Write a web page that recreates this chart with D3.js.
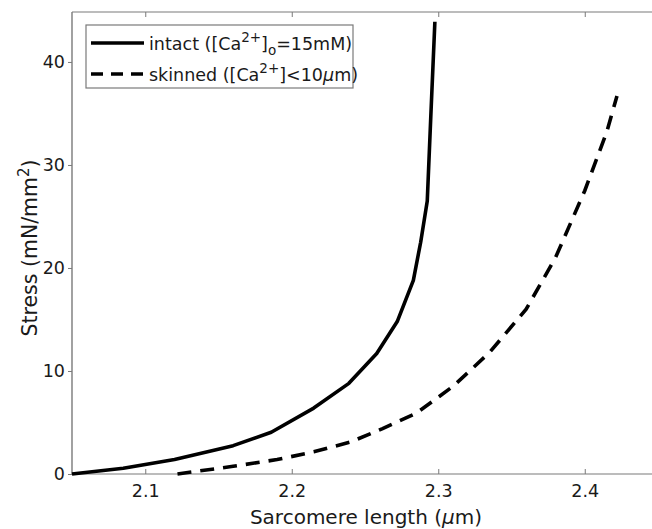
<!DOCTYPE html>
<html><head><meta charset="utf-8">
<script src="https://cdn.jsdelivr.net/npm/d3@7"></script>
<style>body{margin:0;background:#fff}svg{display:block}text{font-family:"DejaVu Sans",sans-serif}</style>
</head><body>
<svg id="c" width="652" height="529"></svg>
<script>
const intactX = [2.05, 2.085, 2.12, 2.16, 2.186, 2.215, 2.239, 2.258, 2.272, 2.283, 2.288, 2.2925, 2.2950, 2.2977];
const intactY = [0, 0.55, 1.4, 2.75, 4.05, 6.4, 8.8, 11.7, 14.8, 18.8, 22.5, 26.5, 35, 43.9];
const skinX = [2.122, 2.16, 2.19, 2.215, 2.24, 2.262, 2.285, 2.31, 2.335, 2.36, 2.38, 2.40, 2.415, 2.422];
const skinY = [0, 0.75, 1.4, 2.15, 3.1, 4.4, 5.9, 8.5, 11.8, 16.0, 21.0, 27.5, 33.2, 36.7];
const xTicks = [2.1, 2.2, 2.3, 2.4];
const yTicks = [0, 10, 20, 30, 40];

const svg = d3.select("#c");
const L = 72, R = 658, T = 12, B = 474;
const x = d3.scaleLinear().domain([2.05, 2.45]).range([L, R]);
const y = d3.scaleLinear().domain([0, 44.85]).range([B, T]);
const axisCol = "#7a7a7a";
const txtCol = "#1a1a1a";

// axes box
svg.append("line").attr("x1", L).attr("x2", 652).attr("y1", T).attr("y2", T).attr("stroke", axisCol).attr("stroke-width", 1.2);
svg.append("line").attr("x1", L).attr("x2", 652).attr("y1", B).attr("y2", B).attr("stroke", axisCol).attr("stroke-width", 1.2);

// bottom axis
const xb = svg.append("g").attr("transform", `translate(0,${B})`)
  .call(d3.axisBottom(x).tickValues(xTicks).tickSize(-5).tickPadding(11).tickFormat(d3.format(".1f")));
xb.select(".domain").remove();
xb.selectAll(".tick line").attr("stroke", axisCol);
xb.selectAll("text").attr("font-size", 17.5).attr("fill", txtCol);

// top ticks
const xt = svg.append("g").attr("transform", `translate(0,${T})`)
  .call(d3.axisTop(x).tickValues(xTicks).tickSize(-5).tickFormat(""));
xt.select(".domain").remove();
xt.selectAll(".tick line").attr("stroke", axisCol);

// left axis
const yl = svg.append("g").attr("transform", `translate(${L},0)`)
  .call(d3.axisLeft(y).tickValues(yTicks).tickSize(4).tickPadding(3));
yl.select(".domain").remove();
yl.selectAll(".tick line").attr("stroke", axisCol);
yl.selectAll("text").attr("font-size", 17.5).attr("fill", txtCol);
svg.append("line").attr("x1", L).attr("x2", L).attr("y1", T).attr("y2", B).attr("stroke", axisCol).attr("stroke-width", 1.4);

// curves
const line = d3.line().x(d => x(d[0])).y(d => y(d[1]));
svg.append("path").datum(intactX.map((v, i) => [v, intactY[i]]))
  .attr("d", line).attr("fill", "none").attr("stroke", "#000").attr("stroke-width", 3.6).attr("stroke-linejoin", "round");
svg.append("path").datum(skinX.map((v, i) => [v, skinY[i]]))
  .attr("d", line).attr("fill", "none").attr("stroke", "#000").attr("stroke-width", 3.6)
  .attr("stroke-dasharray", "14,9");

// axis labels
svg.append("text").attr("x", 366).attr("y", 524).attr("text-anchor", "middle").attr("font-size", 20).attr("fill", txtCol)
  .html('Sarcomere length (<tspan font-style="italic">μ</tspan>m)');
const yt = svg.append("text").attr("transform", `translate(37,248) rotate(-90)`).attr("text-anchor", "middle")
  .attr("font-size", 20.5).attr("fill", txtCol);
yt.append("tspan").text("Stress (mN/mm");
yt.append("tspan").attr("dy", -8).attr("font-size", 15).text("2");
yt.append("tspan").attr("dy", 8).text(")");

// legend
const lg = svg.append("g");
lg.append("rect").attr("x", 86).attr("y", 25).attr("width", 267).attr("height", 63)
  .attr("fill", "#fff").attr("stroke", axisCol).attr("stroke-width", 1.2);
lg.append("line").attr("x1", 91).attr("x2", 144).attr("y1", 43).attr("y2", 43).attr("stroke", "#000").attr("stroke-width", 3.6);
lg.append("line").attr("x1", 91).attr("x2", 144).attr("y1", 74).attr("y2", 74).attr("stroke", "#000").attr("stroke-width", 3.6)
  .attr("stroke-dasharray", "12,8");
const t1 = lg.append("text").attr("x", 149).attr("y", 50).attr("font-size", 17.5).attr("fill", txtCol);
t1.append("tspan").text("intact ([Ca");
t1.append("tspan").attr("dy", -8).attr("font-size", 13.5).text("2+");
t1.append("tspan").attr("dy", 8).text("]");
t1.append("tspan").attr("dy", 5).attr("font-size", 13.5).text("o");
t1.append("tspan").attr("dy", -5).text("=15mM)");
const t2 = lg.append("text").attr("x", 149).attr("y", 81).attr("font-size", 17.5).attr("fill", txtCol);
t2.append("tspan").text("skinned ([Ca");
t2.append("tspan").attr("dy", -8).attr("font-size", 13.5).text("2+");
t2.append("tspan").attr("dy", 8).text("]<10");
t2.append("tspan").attr("font-style", "italic").text("μ");
t2.append("tspan").text("m)");
</script>
</body></html>
